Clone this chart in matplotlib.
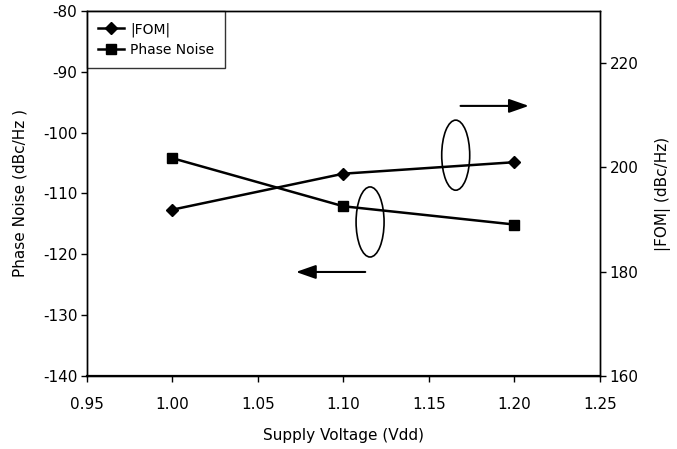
import matplotlib
matplotlib.use('Agg')
import matplotlib.pyplot as plt
from matplotlib.patches import Ellipse

# data
vdd = [1.00, 1.10, 1.20]
phase_noise = [-104.2, -112.1, -115.1]
fom = [191.9, 198.8, 201.0]

x_ticks = [0.95, 1.00, 1.05, 1.10, 1.15, 1.20, 1.25]
pn_ticks = [-140, -130, -120, -110, -100, -90, -80]
fom_ticks = [160, 180, 200, 220]

plt.rcParams['font.family'] = ['DejaVu Sans']
plt.rcParams['axes.unicode_minus'] = False
fig = plt.figure(figsize=(6.77, 4.49), dpi=100)
ax = fig.add_axes([0.1285, 0.1626, 0.7575, 0.8129])
ax2 = ax.twinx()

l1, = ax2.plot(vdd, fom, color='black', lw=1.8, marker='D', markersize=6.5, label='|FOM|')
l2, = ax.plot(vdd, phase_noise, color='black', lw=1.8, marker='s', markersize=6.5, label='Phase Noise')

ax.set_xlim(0.95, 1.25)
ax.set_ylim(-140, -80)
ax2.set_ylim(160, 230)
ax.set_xticks(x_ticks)
ax.set_xticklabels([f'{v:.2f}' for v in x_ticks])
ax.set_yticks(pn_ticks)
ax2.set_yticks(fom_ticks)

for a in (ax, ax2):
    a.tick_params(labelsize=11, length=4, width=1, direction='out', pad=3)
    for s in a.spines.values():
        s.set_linewidth(1)
ax.tick_params(axis='x', pad=11)
ax.spines['bottom'].set_linewidth(1.6)

ax.set_xlabel('Supply Voltage (Vdd)', fontsize=11, labelpad=12)
ax.set_ylabel('Phase Noise (dBc/Hz )', fontsize=11, labelpad=11)
ax2.set_ylabel('|FOM| (dBc/Hz)', fontsize=11, labelpad=12)

leg = ax.legend(handles=[l1, l2], loc='upper left', bbox_to_anchor=(0, 1),
                fontsize=10, frameon=True, fancybox=False, borderaxespad=0,
                handlelength=1.9, handletextpad=0.4, borderpad=0.8, labelspacing=0.45)
leg.get_frame().set_edgecolor('black')
leg.get_frame().set_linewidth(1)

# ellipses marking the curves and arrows to the axes
ax.add_patch(Ellipse((0.719, 0.605), 0.0546, 0.192, transform=ax.transAxes,
                     fill=False, edgecolor='black', lw=1.2))
ax.add_patch(Ellipse((0.552, 0.422), 0.0546, 0.192, transform=ax.transAxes,
                     fill=False, edgecolor='black', lw=1.2))
ax.annotate('', xy=(0.867, 0.740), xytext=(0.723, 0.740), xycoords='axes fraction',
            arrowprops=dict(arrowstyle='-|>,head_length=1.2,head_width=0.42', color='black', lw=1.5))
ax.annotate('', xy=(0.402, 0.285), xytext=(0.548, 0.285), xycoords='axes fraction',
            arrowprops=dict(arrowstyle='-|>,head_length=1.2,head_width=0.42', color='black', lw=1.5))

fig.savefig('out.png', dpi=100)
